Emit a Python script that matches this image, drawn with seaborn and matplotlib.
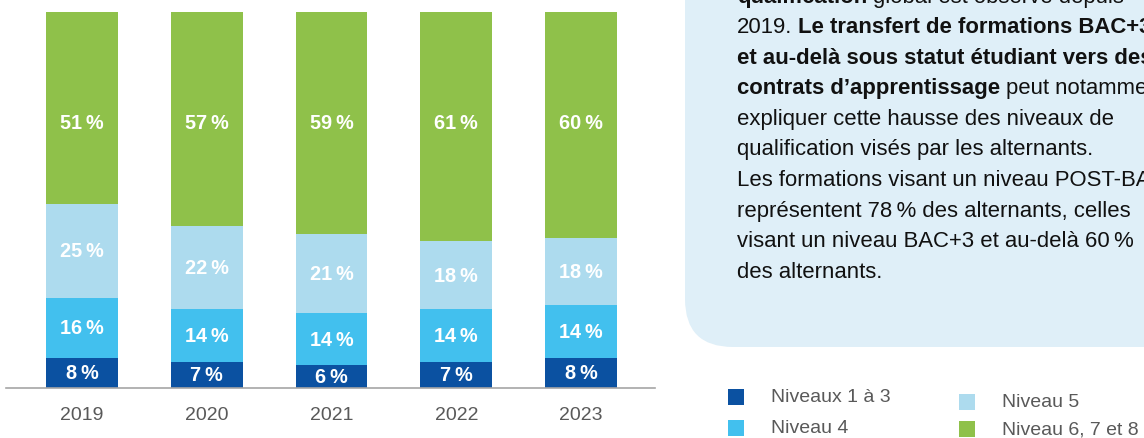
import pandas as pd
import matplotlib.pyplot as plt
import seaborn as sns
from matplotlib.patches import FancyBboxPatch, Rectangle

# values (share of apprentices, %)
years = ["2019", "2020", "2021", "2022", "2023"]
niv_1_3 = [8, 7, 6, 7, 8]
niv_4 = [16, 14, 14, 14, 14]
niv_5 = [25, 22, 21, 18, 18]
niv_6_8 = [51, 57, 59, 61, 60]

levels = ["Niveaux 1 à 3", "Niveau 4", "Niveau 5", "Niveau 6, 7 et 8"]
colors = ["#0B51A1", "#42C0EE", "#ADDBEE", "#8FC14A"]

text_lines = [
    [("qualification", True), ("global est observé depuis", False)],
    [("2019.", False), ("Le transfert de formations BAC+3", True)],
    [("et au-delà sous statut étudiant vers des", True)],
    [("contrats d’apprentissage", True), ("peut notamment", False)],
    [("expliquer cette hausse des niveaux de", False)],
    [("qualification visés par les alternants.", False)],
    [("Les formations visant un niveau POST-BAC", False)],
    [("représentent 78\u2009% des alternants, celles", False)],
    [("visant un niveau BAC+3 et au-delà 60\u2009%", False)],
    [("des alternants.", False)],
]

df = pd.DataFrame({"year": years, levels[0]: niv_1_3, levels[1]: niv_4,
                   levels[2]: niv_5, levels[3]: niv_6_8})
# cumulative tops, so the stack can be drawn from the top segment down
cum = df[levels].cumsum(axis=1)
cum["year"] = df["year"]

sns.set_theme(style="white")
plt.rcParams["font.family"] = ["Liberation Sans", "DejaVu Sans"]

W, H = 1144, 439
fig = plt.figure(figsize=(W / 100, H / 100), dpi=100)
ax = fig.add_axes([6 / W, (H - 389) / H, (655 - 6) / W, (389 - 13) / H])

bar_w = 0.577
for lvl, col in reversed(list(zip(levels, colors))):
    sns.barplot(data=cum, x="year", y=lvl, order=years, color=col,
                saturation=1, width=bar_w, errorbar=None, linewidth=0, ax=ax)

# value labels
for i, yr in enumerate(years):
    base = 0
    for lvl in levels:
        v = df.loc[i, lvl]
        y = base + v / 2
        if lvl == levels[-1]:
            y = 70.5  # top labels sit at a common height in the original
        ax.text(i, y, f"{v}\u2009%", ha="center", va="center", color="white",
                fontsize=14.3, fontweight="bold")
        base += v

ax.set_xlim(-0.609, 4.593)
ax.set_ylim(0, 100)
ax.set_xlabel("")
ax.set_ylabel("")
ax.set_yticks([])
for s in ["top", "left", "right"]:
    ax.spines[s].set_visible(False)
ax.spines["bottom"].set_color("#A6A6A6")
ax.spines["bottom"].set_linewidth(1.2)
ax.tick_params(axis="x", length=0, pad=13, labelsize=14, labelcolor="#595959")

# overlay in pixel coordinates for the comment box and the legend
tax = fig.add_axes([0, 0, 1, 1])
tax.set_xlim(0, W)
tax.set_ylim(H, 0)
tax.axis("off")

box = FancyBboxPatch((685, -100), 600, 448, boxstyle="round,pad=0,rounding_size=48",
                     facecolor="#DFEFF8", edgecolor="none")
tax.add_patch(box)

fs = 15.9
space = 0.278 * fs
for k, segs in enumerate(text_lines):
    y = -3 + 30.6 * k
    prev = None
    for txt, bold in segs:
        w = "bold" if bold else "normal"
        if prev is None:
            prev = tax.text(737, y, txt, fontsize=fs, fontweight=w, color="#111111",
                            va="center", ha="left")
        else:
            prev = tax.annotate(txt, xy=(1, 0), xycoords=prev, xytext=(space, 0),
                                textcoords="offset points", fontsize=fs, fontweight=w,
                                color="#111111", va="bottom", ha="left")

# legend, laid out as in the original (two offset columns)
leg_pos = [(728, 398), (728, 429), (959, 403), (959, 430)]
for (lx, ly), lvl, col in zip(leg_pos, levels, colors):
    tax.add_patch(Rectangle((lx, ly - 8), 16, 16, facecolor=col, edgecolor="none"))
    tax.text(lx + 43, ly, lvl, fontsize=14, color="#595959", va="center", ha="left")

fig.savefig("out.png", dpi=100)
plt.close(fig)
